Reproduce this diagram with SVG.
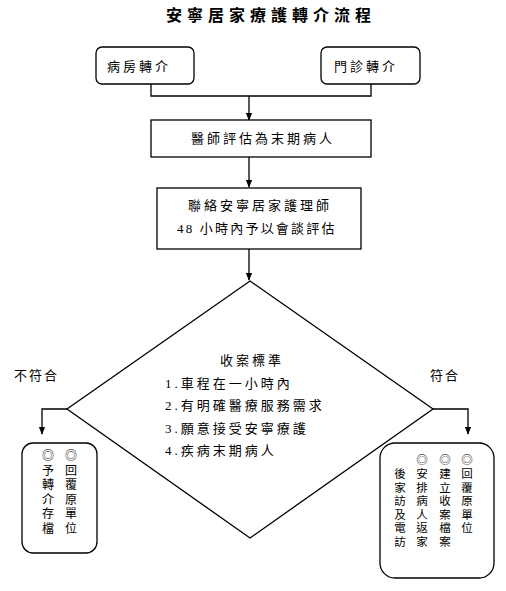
<svg xmlns="http://www.w3.org/2000/svg" width="506" height="591" viewBox="0 0 506 591">
<defs>
<style>
.box{fill:#fff;stroke:#000;stroke-width:1.3}
.ln{fill:none;stroke:#000;stroke-width:1.3}
.t{font-family:"Liberation Serif","Noto Sans CJK TC",serif;font-size:13px;fill:#000;letter-spacing:3px}
.v{font-family:"Liberation Serif","Noto Sans CJK TC",serif;fill:#000;text-anchor:middle}
.vl{font-size:12px}
.vr{font-size:11.5px}
.title{font-family:"Liberation Serif","Noto Sans CJK TC",serif;font-size:16px;font-weight:bold;fill:#000;letter-spacing:5px}
</style>
<marker id="arr" markerWidth="8" markerHeight="10" refX="9" refY="4" orient="auto" markerUnits="userSpaceOnUse" viewBox="0 0 10 8">
<path d="M0,0 L10,4 L0,8 Z" fill="#000"/>
</marker>
</defs>
<rect width="506" height="591" fill="#fff"/>
<text id="title" class="title" x="166" y="21">安寧居家療護轉介流程</text>

<g id="connectors">
<path class="ln" d="M151,84 V96 H371 V84"/>
<path class="ln" d="M249,96 V120" marker-end="url(#arr)"/>
<path class="ln" d="M249,157 V187" marker-end="url(#arr)"/>
<path class="ln" d="M249,249 V280" marker-end="url(#arr)"/>
<path class="ln" d="M67,409 H42 V434" marker-end="url(#arr)"/>
<path class="ln" d="M433,409 H468 V434" marker-end="url(#arr)"/>
<text id="lbl-no" class="t" x="14" y="380" style="letter-spacing:2px">不符合</text>
<text id="lbl-yes" class="t" x="430" y="380" style="letter-spacing:2px">符合</text>
</g>

<g id="n-ward">
<rect class="box" x="96" y="47" width="98" height="37" rx="6"/>
<text class="t" x="107" y="71">病房轉介</text>
</g>
<g id="n-clinic">
<rect class="box" x="321" y="47" width="99" height="37" rx="6"/>
<text class="t" x="334" y="71">門診轉介</text>
</g>
<g id="n-eval">
<rect class="box" x="151" y="120" width="220" height="37"/>
<text class="t" x="191" y="143">醫師評估為末期病人</text>
</g>
<g id="n-contact">
<rect class="box" x="157" y="188" width="204" height="61"/>
<text class="t" x="188" y="210">聯絡安寧居家護理師</text>
<text class="t" x="177" y="233" style="letter-spacing:2.2px">48 小時內予以會談評估</text>
</g>
<g id="n-criteria">
<polygon class="box" points="250,281 433,409 250,538 67,409"/>
<text class="t" x="220" y="365">收案標準</text>
<text class="t" x="165" y="388">1.車程在一小時內</text>
<text class="t" x="165" y="410">2.有明確醫療服務需求</text>
<text class="t" x="165" y="433">3.願意接受安寧療護</text>
<text class="t" x="165" y="455">4.疾病末期病人</text>
</g>
<g id="n-reject">
<rect class="box" x="22" y="443" width="75" height="110" rx="11"/>
<text class="v vl"><tspan x="71" y="460">◎</tspan><tspan x="71" y="474.5">回</tspan><tspan x="71" y="489">覆</tspan><tspan x="71" y="503.5">原</tspan><tspan x="71" y="518">單</tspan><tspan x="71" y="532.5">位</tspan></text>
<text class="v vl"><tspan x="48" y="460">◎</tspan><tspan x="48" y="474.5">予</tspan><tspan x="48" y="489">轉</tspan><tspan x="48" y="503.5">介</tspan><tspan x="48" y="518">存</tspan><tspan x="48" y="532.5">檔</tspan></text>
</g>
<g id="n-accept">
<rect class="box" x="380" y="443" width="114" height="135" rx="15"/>
<text class="v vr"><tspan x="467" y="464">◎</tspan><tspan x="467" y="478">回</tspan><tspan x="467" y="491.5">覆</tspan><tspan x="467" y="505">原</tspan><tspan x="467" y="518.5">單</tspan><tspan x="467" y="532">位</tspan></text>
<text class="v vr"><tspan x="445" y="464">◎</tspan><tspan x="445" y="478">建</tspan><tspan x="445" y="491.5">立</tspan><tspan x="445" y="505">收</tspan><tspan x="445" y="518.5">案</tspan><tspan x="445" y="532">檔</tspan><tspan x="445" y="545.5">案</tspan></text>
<text class="v vr"><tspan x="422" y="464">◎</tspan><tspan x="422" y="478">安</tspan><tspan x="422" y="491.5">排</tspan><tspan x="422" y="505">病</tspan><tspan x="422" y="518.5">人</tspan><tspan x="422" y="532">返</tspan><tspan x="422" y="545.5">家</tspan></text>
<text class="v vr"><tspan x="400" y="478">後</tspan><tspan x="400" y="491.5">家</tspan><tspan x="400" y="505">訪</tspan><tspan x="400" y="518.5">及</tspan><tspan x="400" y="532">電</tspan><tspan x="400" y="545.5">訪</tspan></text>
</g>
</svg>
